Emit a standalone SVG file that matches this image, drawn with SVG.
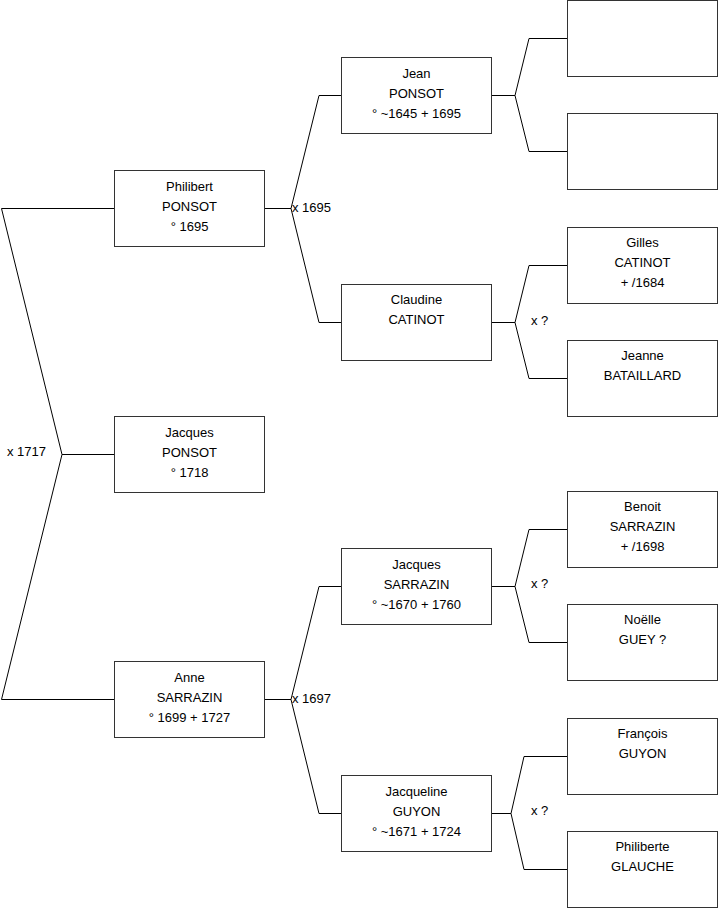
<svg xmlns="http://www.w3.org/2000/svg" width="719" height="908" viewBox="0 0 719 908">
<style>
.box{fill:#fff;stroke:#333;stroke-width:1}
.ln{fill:none;stroke:#000;stroke-width:1}
text{font-family:"Liberation Sans",Arial,sans-serif;font-size:13px;fill:#000}
.c{text-anchor:middle}
</style>
<rect width="719" height="908" fill="#fff"/>
<g id="connectors">
<polyline class="ln" points="114,208.5 1.5,208.5 62,454.5 1.5,699.5 114,699.5"/>
<line class="ln" x1="62" y1="454.5" x2="114" y2="454.5"/>
<polyline class="ln" points="265,208.5 291,208.5"/>
<polyline class="ln" points="341,95.5 319,95.5 291,208.5 319,322.5 341,322.5"/>
<polyline class="ln" points="265,699.5 291,699.5"/>
<polyline class="ln" points="341,586.5 319,586.5 291,699.5 319,813.5 341,813.5"/>
<polyline class="ln" points="492,95.5 515,95.5"/>
<polyline class="ln" points="567,38.5 529,38.5 515,95.5 529,151.5 567,151.5"/>
<polyline class="ln" points="492,322.5 515,322.5"/>
<polyline class="ln" points="567,265.5 529,265.5 515,322.5 529,378.5 567,378.5"/>
<polyline class="ln" points="492,586.5 515,586.5"/>
<polyline class="ln" points="567,529.5 529,529.5 515,586.5 529,642.5 567,642.5"/>
<polyline class="ln" points="492,813.5 511,813.5"/>
<polyline class="ln" points="567,756.5 524,756.5 511,813.5 524,869.5 567,869.5"/>
<text x="7" y="456">x 1717</text>
<text x="292" y="212">x 1695</text>
<text x="292" y="703">x 1697</text>
<text x="531" y="325">x ?</text>
<text x="531" y="588">x ?</text>
<text x="531" y="815">x ?</text>
</g>
<g id="philibert"><rect class="box" x="114.5" y="170.5" width="150" height="76"/><text class="c" x="189.5" y="191">Philibert</text><text class="c" x="189.5" y="211">PONSOT</text><text class="c" x="189.5" y="231">° 1695</text></g>
<g id="jacques-ponsot"><rect class="box" x="114.5" y="416.5" width="150" height="76"/><text class="c" x="189.5" y="437">Jacques</text><text class="c" x="189.5" y="457">PONSOT</text><text class="c" x="189.5" y="477">° 1718</text></g>
<g id="anne"><rect class="box" x="114.5" y="661.5" width="150" height="76"/><text class="c" x="189.5" y="682">Anne</text><text class="c" x="189.5" y="702">SARRAZIN</text><text class="c" x="189.5" y="722">° 1699 + 1727</text></g>
<g id="jean"><rect class="box" x="341.5" y="57.5" width="150" height="76"/><text class="c" x="416.5" y="78">Jean</text><text class="c" x="416.5" y="98">PONSOT</text><text class="c" x="416.5" y="118">° ~1645 + 1695</text></g>
<g id="claudine"><rect class="box" x="341.5" y="284.5" width="150" height="76"/><text class="c" x="416.5" y="304">Claudine</text><text class="c" x="416.5" y="324">CATINOT</text></g>
<g id="jacques-sarrazin"><rect class="box" x="341.5" y="548.5" width="150" height="76"/><text class="c" x="416.5" y="569">Jacques</text><text class="c" x="416.5" y="589">SARRAZIN</text><text class="c" x="416.5" y="609">° ~1670 + 1760</text></g>
<g id="jacqueline"><rect class="box" x="341.5" y="775.5" width="150" height="76"/><text class="c" x="416.5" y="796">Jacqueline</text><text class="c" x="416.5" y="816">GUYON</text><text class="c" x="416.5" y="836">° ~1671 + 1724</text></g>
<g id="empty1"><rect class="box" x="567.5" y="0.5" width="150" height="76"/></g>
<g id="empty2"><rect class="box" x="567.5" y="113.5" width="150" height="76"/></g>
<g id="gilles"><rect class="box" x="567.5" y="227.5" width="150" height="76"/><text class="c" x="642.5" y="247">Gilles</text><text class="c" x="642.5" y="267">CATINOT</text><text class="c" x="642.5" y="287">+ /1684</text></g>
<g id="jeanne"><rect class="box" x="567.5" y="340.5" width="150" height="76"/><text class="c" x="642.5" y="360">Jeanne</text><text class="c" x="642.5" y="380">BATAILLARD</text></g>
<g id="benoit"><rect class="box" x="567.5" y="491.5" width="150" height="76"/><text class="c" x="642.5" y="511">Benoit</text><text class="c" x="642.5" y="531">SARRAZIN</text><text class="c" x="642.5" y="551">+ /1698</text></g>
<g id="noelle"><rect class="box" x="567.5" y="604.5" width="150" height="76"/><text class="c" x="642.5" y="624">Noëlle</text><text class="c" x="642.5" y="644">GUEY ?</text></g>
<g id="francois"><rect class="box" x="567.5" y="718.5" width="150" height="76"/><text class="c" x="642.5" y="738">François</text><text class="c" x="642.5" y="758">GUYON</text></g>
<g id="philiberte"><rect class="box" x="567.5" y="831.5" width="150" height="76"/><text class="c" x="642.5" y="851">Philiberte</text><text class="c" x="642.5" y="871">GLAUCHE</text></g>
</svg>
